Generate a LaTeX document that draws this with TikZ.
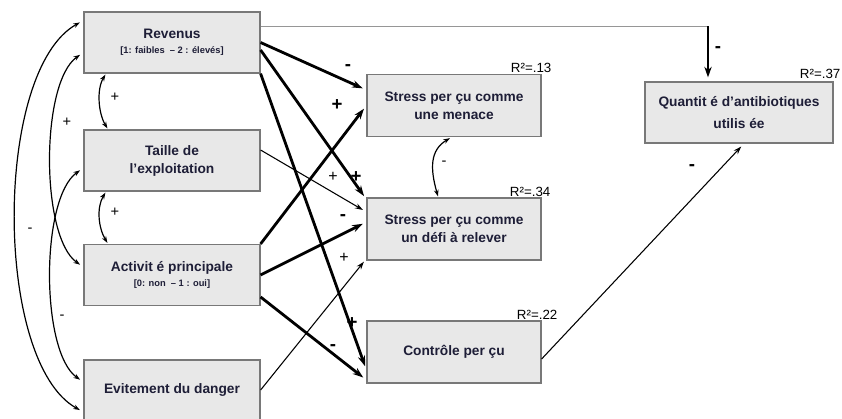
\documentclass[tikz,border=0pt]{standalone}
\usepackage{fontspec}
\setmainfont{Liberation Sans}
\usepackage{tikz}
\usetikzlibrary{arrows.meta, calc}
\definecolor{boxgray}{RGB}{120, 120, 120}
\definecolor{boxfill}{RGB}{232, 232, 232}
\definecolor{boxtext}{RGB}{30, 30, 55}
\definecolor{linkgray}{RGB}{150, 150, 150}

\tikzset{
  varbox/.style={draw=boxgray, fill=boxfill, line width=0.9pt, align=center,
    text=boxtext, font=\bfseries\fontsize{10.3}{13.5}\selectfont, inner sep=2pt},
  leftbox/.style={varbox, minimum width=132pt, minimum height=45.75pt},
  midbox/.style={varbox, minimum width=130.5pt, minimum height=46.5pt},
  paththick/.style={-{Stealth[length=8pt,width=5.5pt]}, line width=2.1pt, shorten >=3pt},
  paththin/.style={-{Stealth[length=6pt,width=4pt]}, line width=0.8pt, shorten >=3pt},
  corr/.style={{Stealth[length=5pt,width=3.5pt]}-{Stealth[length=5pt,width=3.5pt]},
    line width=0.9pt},
  bigsign/.style={font=\bfseries\fontsize{14}{14}\selectfont, inner sep=0pt},
  smallsign/.style={font=\fontsize{11}{11}\selectfont, inner sep=0pt},
  rsq/.style={font=\fontsize{10}{10}\selectfont, inner sep=0pt, anchor=south east},
}

\begin{document}
\begin{tikzpicture}[x=0.75pt, y=-0.75pt]
  \useasboundingbox (0,0) rectangle (842,418);

  % predictors
  \node[leftbox] (rev) at (172,42.5) {Revenus\\[-2pt]{\fontsize{7}{8}\selectfont [1: faibles \ – 2 : élevés]}};
  \node[leftbox] (tai) at (172,160.5) {Taille de\\l’exploitation};
  \node[leftbox] (act) at (172,275) {Activit é principale\\[-2pt]{\fontsize{7}{8}\selectfont [0: non \ – 1 : oui]}};
  \node[leftbox, minimum height=45pt] (evi) at (172,390) {Evitement du danger};

  % mediators
  \node[midbox] (men) at (454,105.5) {Stress per çu comme\\une menace};
  \node[midbox] (def) at (454,229) {Stress per çu comme\\un défi à relever};
  \node[midbox] (ctl) at (454,352) {Contrôle per çu};

  % outcome
  \node[varbox, minimum width=141pt, minimum height=45.75pt, font=\bfseries\fontsize{10.3}{16}\selectfont]
    (qua) at (739,112.5) {Quantit é d’antibiotiques\\utilis ée};

  % R^2
  \node[rsq] (r13) at ($(men.north east)+(10,-1)$) {R²=.13};
  \node[rsq] (r34) at ($(def.north east)+(9,-1)$) {R²=.34};
  \node[rsq] (r22) at ($(ctl.north east)+(16,-1)$) {R²=.22};
  \node[rsq] (r37) at ($(qua.north east)+(7,-3)$) {R²=.37};

  % correlations on the left
  \draw[corr, shorten <=3pt, shorten >=3pt] ($(rev.west)+(0,-22)$)
    .. controls +(-90,50) and +(-90,-50) .. ($(evi.west)+(0,22)$);
  \draw[corr, shorten <=3pt, shorten >=3pt] ($(rev.west)+(0,10)$)
    .. controls +(-43,30) and +(-43,-30) .. ($(act.west)+(0,-8)$);
  \draw[corr, shorten <=3pt, shorten >=3pt] ($(tai.west)+(0,7.5)$)
    .. controls +(-43,30) and +(-43,-30) .. ($(evi.west)+(0,-8)$);
  \draw[corr] ($(rev.south west)+(22,1)$)
    .. controls +(-9,15) and +(-9,-15) .. ($(tai.north west)+(24,-1)$);
  \draw[corr] ($(tai.south west)+(22,1)$)
    .. controls +(-9,15) and +(-9,-15) .. ($(act.north west)+(24,-1)$);
  \draw[corr] ($(men.south)+(-4,1)$)
    .. controls +(-20,12) and +(-8,-28) .. ($(def.north)+(-16,-1)$);
  \node[smallsign] (c1) at (30,230) {-};
  \node[smallsign] (c2) at (67,122) {+};
  \node[smallsign] (c3) at (62,317) {-};
  \node[smallsign] (c4) at (115,97) {+};
  \node[smallsign] (c5) at (115,212) {+};
  \node[smallsign] (c6) at (444,163) {-};

  % paths to the mediators
  \draw[paththick] (rev.east) -- ($(men.west)+(0,-15.5)$);
  \draw[paththick] ($(rev.east)+(0,7.5)$) -- ($(def.north west)+(0,2)$);
  \draw[paththick] (rev.south east) -- ($(ctl.west)+(0,18)$);
  \draw[paththin] ($(tai.east)+(0,-10.5)$) -- ($(def.west)+(0,-17)$);
  \draw[paththick] (act.north east) -- (men.west);
  \draw[paththick] (act.east) -- ($(def.west)+(0,-7)$);
  \draw[paththick] ($(act.east)+(0,22)$) -- ($(ctl.west)+(0,28)$);
  \draw[paththin] (evi.east) -- ($(def.south west)+(0,-2)$);
  \node[bigsign] (p1) at (348,68) {-};
  \node[bigsign] (p2) at (356,177) {+};
  \node[smallsign, font=\fontsize{12}{12}\selectfont] (p3) at (333,177) {+};
  \node[bigsign] (p4) at (337,105) {+};
  \node[bigsign] (p5) at (343,218) {-};
  \node[smallsign, font=\fontsize{12}{12}\selectfont] (p6) at (344,258) {+};
  \node[bigsign] (p7) at (352,323) {+};
  \node[bigsign] (p8) at (333,348) {-};

  % paths to the outcome
  \coordinate (revtop) at ($(rev.north east)+(0,15)$);
  \coordinate (quatop) at ($(qua.north)+(-31,0)$);
  \draw[linkgray, line width=0.6pt] (revtop) -- (revtop -| quatop);
  \draw[paththick] (revtop -| quatop) -- (quatop);
  \draw[paththin] ($(ctl.east)+(0,7)$) -- ($(qua.south)+(5,0)$);
  \node[bigsign] (q1) at (718,50) {-};
  \node[bigsign] (q2) at (692,168) {-};
\end{tikzpicture}
\end{document}
